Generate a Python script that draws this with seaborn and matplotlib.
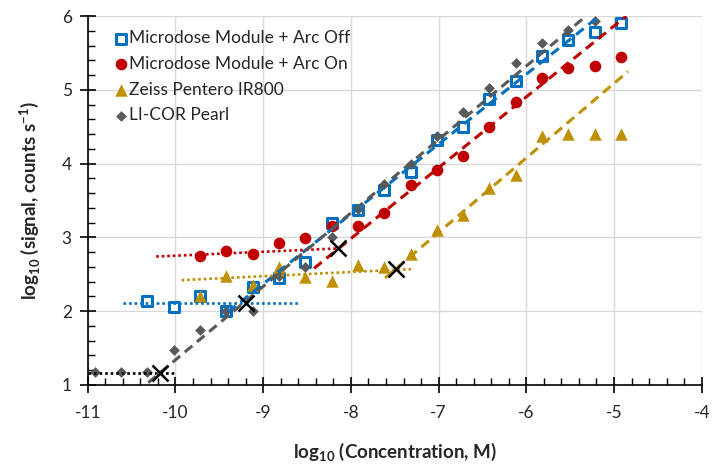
import matplotlib
matplotlib.use("Agg")
import matplotlib.pyplot as plt
import seaborn as sns
from matplotlib.ticker import MultipleLocator, FormatStrFormatter

# log10 concentration (M) for each series
conc_pearl = [-10.92, -10.62, -10.32, -10.02, -9.72, -9.42, -9.12, -8.82, -8.52, -8.22,
              -7.92, -7.62, -7.32, -7.02, -6.72, -6.42, -6.12, -5.82, -5.52, -5.22]
conc_arc_off = [-10.32, -10.02, -9.72, -9.42, -9.12, -8.82, -8.52, -8.22, -7.92, -7.62,
                -7.32, -7.02, -6.72, -6.42, -6.12, -5.82, -5.52, -5.22, -4.92]
conc_short = [-9.72, -9.42, -9.12, -8.82, -8.52, -8.22, -7.92, -7.62, -7.32, -7.02,
              -6.72, -6.42, -6.12, -5.82, -5.52, -5.22, -4.92]

# log10 signal (counts/s)
sig_arc_off = [2.14, 2.05, 2.21, 2.00, 2.33, 2.45, 2.67, 3.19, 3.37, 3.64,
               3.89, 4.32, 4.49, 4.87, 5.12, 5.46, 5.67, 5.79, 5.90]
sig_arc_on = [2.75, 2.81, 2.78, 2.93, 2.99, 3.16, 3.15, 3.33, 3.71, 3.92,
              4.11, 4.50, 4.83, 5.16, 5.30, 5.32, 5.44]
sig_zeiss = [2.20, 2.47, 2.35, 2.60, 2.46, 2.41, 2.63, 2.60, 2.77, 3.10,
             3.30, 3.67, 3.85, 4.37, 4.40, 4.40, 4.40]
sig_pearl = [1.17, 1.17, 1.17, 1.47, 1.75, 2.00, 2.00, 2.47, 2.60, 3.01,
             3.39, 3.73, 4.00, 4.38, 4.70, 5.03, 5.37, 5.63, 5.81, 5.93]

# background (dotted) and linear (dashed) fits, plus their crossing points
bg_arc_off_x, bg_arc_off_y = [-10.6, -8.6], [2.11, 2.11]
lin_arc_off_x, lin_arc_off_y = [-9.40, -5.2], [1.99, 5.97]
bg_arc_on_x, bg_arc_on_y = [-10.22, -8.15], [2.74, 2.85]
lin_arc_on_x, lin_arc_on_y = [-8.42, -4.86], [2.58, 6.0]
bg_zeiss_x, bg_zeiss_y = [-9.93, -7.31], [2.42, 2.57]
lin_zeiss_x, lin_zeiss_y = [-7.61, -4.84], [2.45, 5.25]
bg_pearl_x, bg_pearl_y = [-11.0, -10.0], [1.16, 1.16]
lin_pearl_x, lin_pearl_y = [-10.31, -5.32], [1.03, 6.0]
lod_x = [-10.18, -9.2, -8.15, -7.48]
lod_y = [1.16, 2.11, 2.85, 2.57]

labels = ["Microdose Module + Arc Off", "Microdose Module + Arc On",
          "Zeiss Pentero IR800", "LI-COR Pearl"]

BLUE = "#0070C0"
RED = "#C00000"
GOLD = "#BF9000"
GRAY = "#595959"

sns.set_style("white")
plt.rcParams["font.family"] = ["Lato", "DejaVu Sans"]
plt.rcParams["axes.unicode_minus"] = False
plt.rcParams["mathtext.fontset"] = "custom"
plt.rcParams["mathtext.rm"] = "Lato"
plt.rcParams["mathtext.bf"] = "Lato:bold"

fig, ax = plt.subplots(figsize=(7.19, 4.74), dpi=100)
fig.subplots_adjust(left=0.122, right=0.976, bottom=0.188, top=0.966)

sns.scatterplot(x=conc_arc_off, y=sig_arc_off, marker="s", s=55, facecolor="white",
                edgecolor=BLUE, linewidth=2.2, label=labels[0], ax=ax, zorder=3)
sns.scatterplot(x=conc_short, y=sig_arc_on, marker="o", s=70, color=RED,
                edgecolor=RED, linewidth=0, label=labels[1], ax=ax, zorder=3)
sns.scatterplot(x=conc_short, y=sig_zeiss, marker="^", s=80, color=GOLD,
                edgecolor=GOLD, linewidth=0, label=labels[2], ax=ax, zorder=3)
sns.scatterplot(x=conc_pearl, y=sig_pearl, marker="D", s=30, color=GRAY,
                edgecolor=GRAY, linewidth=0, label=labels[3], ax=ax, zorder=3)

dash = dict(lw=2.2, dashes=(3.2, 2.0), zorder=4)
dot = dict(lw=1.9, dashes=(1, 1.1), zorder=4)
ax.plot(bg_arc_off_x, bg_arc_off_y, color=BLUE, **dot)
ax.plot(lin_arc_off_x, lin_arc_off_y, color=BLUE, **dash)
ax.plot(bg_arc_on_x, bg_arc_on_y, color=RED, **dot)
ax.plot(lin_arc_on_x, lin_arc_on_y, color=RED, **dash)
ax.plot(bg_zeiss_x, bg_zeiss_y, color=GOLD, **dot)
ax.plot(lin_zeiss_x, lin_zeiss_y, color=GOLD, **dash)
ax.plot(bg_pearl_x, bg_pearl_y, color="black", **dot)
ax.plot(lin_pearl_x, lin_pearl_y, color=GRAY, **dash)
ax.plot(lod_x, lod_y, ls="none", marker="x", ms=11, mew=1.8, color="black", zorder=5)

ax.set_xlim(-11, -4)
ax.set_ylim(1, 6)
ax.xaxis.set_major_locator(MultipleLocator(1))
ax.xaxis.set_minor_locator(MultipleLocator(0.2))
ax.yaxis.set_major_locator(MultipleLocator(1))
ax.yaxis.set_minor_locator(MultipleLocator(0.2))
ax.xaxis.set_major_formatter(FormatStrFormatter("%d"))
ax.yaxis.set_major_formatter(FormatStrFormatter("%d"))
ax.grid(True, which="major", color="#d9d9d9", lw=1)
ax.set_axisbelow(True)

for side in ["top", "right"]:
    ax.spines[side].set_visible(False)
for side in ["left", "bottom"]:
    ax.spines[side].set_color("black")
    ax.spines[side].set_linewidth(1.2)

ax.tick_params(which="both", bottom=True, left=True)
ax.tick_params(which="major", direction="inout", length=11, width=1.2,
               color="black", labelsize=12.5, pad=6)
ax.tick_params(which="minor", direction="in", length=5, width=1.0, color="black")
ax.tick_params(axis="x", which="major", pad=9)

ax.set_xlabel(r"log$_{\mathbf{10}}$ (Concentration, M)", fontsize=13.5,
              fontweight="bold", labelpad=14)
ax.set_ylabel(r"log$_{\mathbf{10}}$ (signal, counts s$^{\mathbf{-1}}$)", fontsize=13.5,
              fontweight="bold", labelpad=14)

ax.legend(loc="upper left", frameon=False, fontsize=12.5, handletextpad=0.1,
          labelspacing=0.55, borderaxespad=0.0, bbox_to_anchor=(0.031, 0.98),
          handlelength=0.8)

fig.savefig("out.png", dpi=100)
